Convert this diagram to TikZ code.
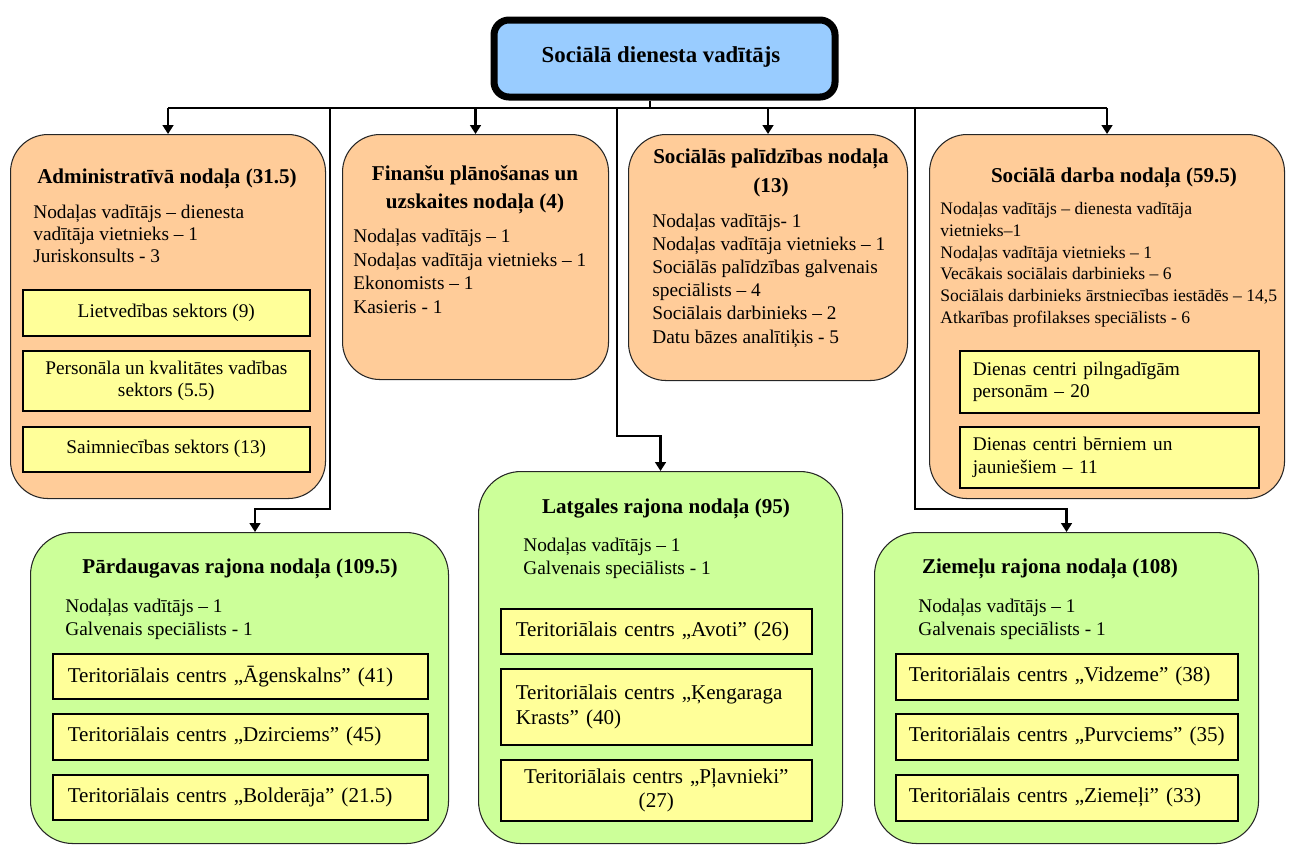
\documentclass[tikz,border=0pt]{standalone}
\usepackage{fontspec}
\setmainfont{Liberation Serif}
\usetikzlibrary{arrows.meta}
\definecolor{vaditajscolor}{HTML}{99CCFF}
\definecolor{nodalacolor}{HTML}{FFCC99}
\definecolor{rajonscolor}{HTML}{CCFF99}
\definecolor{sektorscolor}{HTML}{FFFF99}

\tikzset{
  boxsize/.style 2 args={minimum width=#1*0.02cm, minimum height=#2*0.02cm},
  vaditajs/.style={draw, line width=4pt, rounded corners=0.3cm, fill=vaditajscolor, anchor=north west, inner sep=0},
  nodala/.style={draw=black!85, line width=0.6pt, rounded corners=0.75cm, fill=nodalacolor, anchor=north west, inner sep=0},
  rajons/.style={draw=black!85, line width=0.6pt, rounded corners=0.85cm, fill=rajonscolor, anchor=north west, inner sep=0},
  sektors/.style={draw, line width=0.9pt, fill=sektorscolor, anchor=north west, inner sep=0, font=\fontsize{11pt}{13pt}\selectfont, align=center},
  centrs/.style={sektors, font=\fontsize{12pt}{14pt}\selectfont, text width=#1*0.02cm, align=left},
  virsraksts/.style={inner sep=0, font=\bfseries\fontsize{12pt}{15.8pt}\selectfont, align=center, anchor=base},
  teksts/.style={inner sep=0, font=\fontsize{11pt}{13pt}\selectfont, align=left, anchor=base west},
  linija/.style={line width=1.2pt},
  bulta/.style={linija, -{Triangle[length=5pt,width=6pt]}},
}

\begin{document}
\begin{tikzpicture}[x=0.02cm, y=-0.02cm]
\useasboundingbox (0,0) rectangle (1290,845);%
% vadītājs
\node[vaditajs, boxsize={341}{77}] (vad) at (490.5,16.5) {};%
\node[virsraksts, font=\bfseries\fontsize{13pt}{15pt}\selectfont] (vadt) at (661,62) {Sociālā dienesta vadītājs};%
% nodaļas
\node[nodala, boxsize={315}{364}] (admin) at (10,134) {};%
\node[nodala, boxsize={266}{245}] (fin) at (342,134) {};%
\node[nodala, boxsize={279}{246}] (palidz) at (628,134) {};%
\node[nodala, boxsize={355}{364}] (darbs) at (929,134) {};%
% rajonu nodaļas
\node[rajons, boxsize={418}{311}] (pard) at (30,532) {};%
\node[rajons, boxsize={364}{372}] (latg) at (478,471) {};%
\node[rajons, boxsize={384}{311}] (ziem) at (874,532) {};%
% teksti (base = pēdējās rindas bāzes līnija)
\node[virsraksts] (admint) at (167,183) {Administratīvā nodaļa (31.5)};%
\node[teksts, font=\fontsize{11pt}{12.5pt}\selectfont] (adminb) at (33,262) {Nodaļas vadītājs – dienesta\\vadītāja vietnieks – 1\\Juriskonsults - 3};%
\node[virsraksts] (fint) at (475,208) {Finanšu plānošanas un\\uzskaites nodaļa (4)};%
\node[teksts, font=\fontsize{11pt}{13.3pt}\selectfont] (finb) at (353,313) {Nodaļas vadītājs – 1\\Nodaļas vadītāja vietnieks – 1\\Ekonomists – 1\\Kasieris - 1};%
\node[virsraksts, font=\bfseries\fontsize{12pt}{16.5pt}\selectfont] (palidzt) at (771,192) {Sociālās palīdzības nodaļa\\(13)};%
\node[teksts, font=\fontsize{11pt}{13.1pt}\selectfont] (palidzb) at (652,343) {Nodaļas vadītājs- 1\\Nodaļas vadītāja vietnieks – 1\\Sociālās palīdzības galvenais\\speciālists – 4\\Sociālais darbinieks – 2\\Datu bāzes analītiķis - 5};%
\node[virsraksts] (darbst) at (1114,182) {Sociālā darba nodaļa (59.5)};%
\node[teksts, font=\fontsize{10pt}{12.3pt}\selectfont] (darbsb) at (940,323) {Nodaļas vadītājs – dienesta vadītāja\\vietnieks–1\\Nodaļas vadītāja vietnieks – 1\\Vecākais sociālais darbinieks – 6\\Sociālais darbinieks ārstniecības iestādēs – 14,5\\Atkarības profilakses speciālists - 6};%
\node[virsraksts] (pardt) at (240,573) {Pārdaugavas rajona nodaļa (109.5)};%
\node[teksts] (pardb) at (65,635) {Nodaļas vadītājs – 1\\Galvenais speciālists - 1};%
\node[virsraksts] (latgt) at (666,513) {Latgales rajona nodaļa (95)};%
\node[teksts] (latgb) at (523,574) {Nodaļas vadītājs – 1\\Galvenais speciālists - 1};%
\node[virsraksts] (ziemt) at (1050,573) {Ziemeļu rajona nodaļa (108)};%
\node[teksts] (ziemb) at (918,635) {Nodaļas vadītājs – 1\\Galvenais speciālists - 1};%
% sektori
\node[sektors, boxsize={287}{46}] (s1) at (22,289) {Lietvedības sektors (9)};%
\node[sektors, boxsize={287}{60}] (s2) at (22,350) {Personāla un kvalitātes vadības\\sektors (5.5)};%
\node[sektors, boxsize={287}{45}] (s3) at (22,426) {Saimniecības sektors (13)};%
\node[sektors, boxsize={299}{62}, text width=273*0.02cm, align=left] (d1) at (959,350) {Dienas centri pilngadīgām\\personām – 20};%
\node[sektors, boxsize={299}{61}, text width=273*0.02cm, align=left] (d2) at (959,426) {Dienas centri bērniem un\\jauniešiem – 11};%
\node[centrs=345, boxsize={375}{45}] (p1) at (52,653) {Teritoriālais centrs „Āgenskalns” (41)};%
\node[centrs=345, boxsize={375}{46}] (p2) at (52,713) {Teritoriālais centrs „Dzirciems” (45)};%
\node[centrs=345, boxsize={375}{45}] (p3) at (52,774) {Teritoriālais centrs „Bolderāja” (21.5)};%
\node[centrs=281, boxsize={311}{45}] (l1) at (500,608) {Teritoriālais centrs „Avoti” (26)};%
\node[centrs=281, boxsize={311}{76}] (l2) at (500,668) {Teritoriālais centrs „Ķengaraga\\Krasts” (40)};%
\node[centrs=281, boxsize={311}{61}, align=center] (l3) at (500,759) {Teritoriālais centrs „Pļavnieki”\\(27)};%
\node[centrs=316, boxsize={342}{46}] (z1) at (895,653) {Teritoriālais centrs „Vidzeme” (38)};%
\node[centrs=316, boxsize={342}{46}] (z2) at (895,713) {Teritoriālais centrs „Purvciems” (35)};%
\node[centrs=316, boxsize={342}{46}] (z3) at (895,774) {Teritoriālais centrs „Ziemeļi” (33)};%
% savienojumi
\coordinate (bus) at (650,108);%
\coordinate (j1) at (330,509);%
\coordinate (j1b) at (255,509);%
\coordinate (j2) at (617,436);%
\coordinate (j3) at (915,509);%
\draw[linija] (vad.south -| bus) -- (bus);%
\draw[linija] (bus -| admin.north) -- (bus -| darbs.north);%
\draw[bulta] (bus -| admin.north) -- (admin.north);%
\draw[bulta] (bus -| fin.north) -- (fin.north);%
\draw[bulta] (bus -| palidz.north) -- (palidz.north);%
\draw[bulta] (bus -| darbs.north) -- (darbs.north);%
\draw[bulta] (bus -| j1) -- (j1) -- (j1b) -- (j1b |- pard.north);%
\draw[bulta] (bus -| j2) -- (j2) -| (latg.north);%
\draw[bulta] (bus -| j3) -- (j3) -| (ziem.north);%
\end{tikzpicture}
\end{document}
